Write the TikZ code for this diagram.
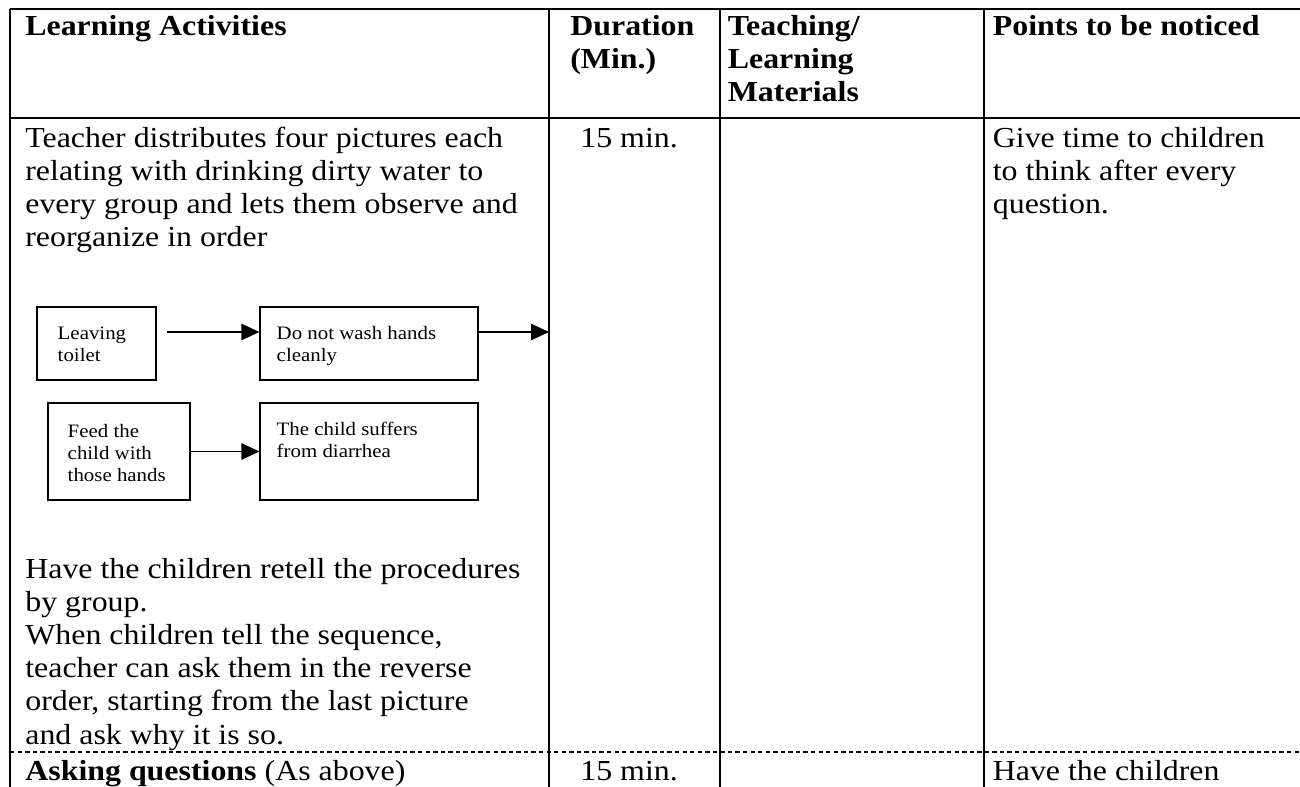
\documentclass[tikz,border=0pt]{standalone}
\usepackage{fontspec}
\setmainfont{Liberation Serif}[FakeStretch=1.1]
\usetikzlibrary{arrows.meta}

\begin{document}
\begin{tikzpicture}[
  every node/.style={inner sep=0pt},
  txt/.style={anchor=base west, align=left, font=\fontsize{16.5}{18.8}\selectfont},
  hd/.style={txt, font=\fontsize{16.5}{18.8}\selectfont\bfseries},
  fbox/.style={draw, line width=0.7pt},
  fbt/.style={anchor=base west, align=left, font=\fontsize{10.8}{12.5}\selectfont},
  rule/.style={line width=0.8pt},
  dashrule/.style={line width=0.7pt, dash pattern=on 2.5pt off 1.8pt},
  >={Triangle[length=3.6mm,width=3.3mm]}]
  \useasboundingbox (0,0) rectangle (26,-15.74);
  % table rules
  \draw[rule] (0.2,-0.18) -- (26,-0.18);
  \draw[rule] (0.2,-2.36) -- (26,-2.36);
  \draw[dashrule] (0.2,-15.04) -- (26,-15.04);
  \foreach \x in {0.2,10.98,14.4,19.68}
    \draw[rule] (\x,-0.18) -- (\x,-15.74);
  % header row (nodes sit on the baseline of their last line)
  \node[hd] (hAct) at (0.5,-0.72) {Learning Activities};
  \node[hd] (hDur) at (11.4,-1.38) {Duration\\(Min.)};
  \node[hd] (hMat) at (14.55,-2.04) {Teaching/\\Learning\\Materials};
  \node[hd] (hPts) at (19.85,-0.72) {Points to be noticed};
  % first activity
  \node[txt] (act1) at (0.5,-4.94) {Teacher distributes four pictures each\\relating with drinking dirty water to\\every group and lets them observe and\\reorganize in order};
  \node[txt] (dur1) at (11.6,-2.96) {15 min.};
  \node[txt] (pts1) at (19.85,-4.28) {Give time to children\\to think after every\\question.};
  % picture sequence
  \node[fbox, minimum width=2.38cm, minimum height=1.46cm] (leave) at (1.93,-6.87) {};
  \node[fbt] (leaveT) at ([xshift=0.42cm,yshift=-1.1cm]leave.north west) {Leaving\\toilet};
  \node[fbox, minimum width=4.36cm, minimum height=1.46cm] (wash) at (7.38,-6.87) {};
  \node[fbt] (washT) at ([xshift=0.34cm,yshift=-1.1cm]wash.north west) {Do not wash hands\\cleanly};
  \node[fbox, minimum width=2.84cm, minimum height=1.94cm] (feed) at (2.38,-9.03) {};
  \node[fbt] (feedT) at ([xshift=0.4cm,yshift=-1.58cm]feed.north west) {Feed the\\child with\\those hands};
  \node[fbox, minimum width=4.36cm, minimum height=1.94cm] (suffer) at (7.38,-9.03) {};
  \node[fbt] (sufferT) at ([xshift=0.34cm,yshift=-1.1cm]suffer.north west) {The child suffers\\from diarrhea};
  \coordinate (rowEnd) at (10.98,-6.64);
  \draw[->, line width=0.7pt, shorten <=0.2cm] ([yshift=0.23cm]leave.east) -- ([yshift=0.23cm]wash.west);
  \draw[->, line width=0.7pt] ([yshift=0.23cm]wash.east) -- (rowEnd);
  \draw[->, line width=0.7pt] (feed) -- (suffer);
  \node[txt] (act2) at (0.5,-14.88) {Have the children retell the procedures\\by group.\\When children tell the sequence,\\teacher can ask them in the reverse\\order, starting from the last picture\\and ask why it is so.};
  % second activity
  \node[txt] (act3) at (0.5,-15.6) {\textbf{Asking questions} (As above)};
  \node[txt] (dur2) at (11.6,-15.6) {15 min.};
  \node[txt] (pts2) at (19.85,-15.6) {Have the children};
\end{tikzpicture}
\end{document}
